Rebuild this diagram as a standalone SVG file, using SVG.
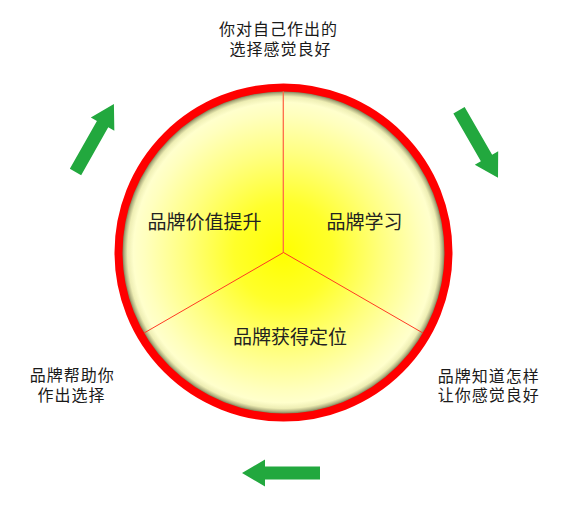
<svg xmlns="http://www.w3.org/2000/svg" xmlns:xlink="http://www.w3.org/1999/xlink" width="567" height="505" viewBox="0 0 567 505">
<style>
.t{font-family:"Noto Sans CJK SC","Liberation Sans",sans-serif;fill:#1a1a1a;text-anchor:middle}
.outer{font-size:16px;letter-spacing:1px}
.inner{font-size:19px;fill:#222}
.div{stroke:#ff3a24;stroke-width:1;fill:none}
.vert{stroke:#ff6a48;stroke-width:1.3;fill:none}
.arr{fill:#22a83e}
</style>
<defs>
<radialGradient id="fill" cx="283.5" cy="252.5" r="165" gradientUnits="userSpaceOnUse">
<stop offset="0" stop-color="#ffff00"/>
<stop offset="0.3" stop-color="#ffff2a"/>
<stop offset="0.6" stop-color="#ffff80"/>
<stop offset="0.84" stop-color="#ffffbe"/>
<stop offset="0.91" stop-color="#ffffcc"/>
<stop offset="0.945" stop-color="#eeeeb4"/>
<stop offset="0.965" stop-color="#b0b080"/>
<stop offset="0.98" stop-color="#707048"/>
<stop offset="1" stop-color="#707048"/>
</radialGradient>
<polygon id="arrow" points="0,-6.5 55,-6.5 55,-13.5 78,0 55,13.5 55,6.5 0,6.5"/>
</defs>
<rect width="567" height="505" fill="#ffffff"/>
<g id="wheel">
<circle cx="283.5" cy="252.5" r="165" fill="url(#fill)" stroke="#ff0000" stroke-width="8"/>
</g>
<g id="connectors">
<line class="vert" x1="283.3" y1="252.5" x2="283.3" y2="91.5"/>
<line class="div" x1="283.5" y1="252.5" x2="144.1" y2="333"/>
<line class="div" x1="283.5" y1="252.5" x2="422.9" y2="333"/>
<use class="arr" xlink:href="#arrow" href="#arrow" transform="translate(75.5,172) rotate(-60.5)"/>
<use class="arr" xlink:href="#arrow" href="#arrow" transform="translate(459,110.3) rotate(60)"/>
<use class="arr" xlink:href="#arrow" href="#arrow" transform="translate(320,473) rotate(180)"/>
</g>
<g id="seg-value">
<text class="t inner" x="204.5" y="229">品牌价值提升</text>
</g>
<g id="seg-learn">
<text class="t inner" x="364.5" y="229">品牌学习</text>
</g>
<g id="seg-position">
<text class="t inner" x="290" y="344">品牌获得定位</text>
</g>
<g id="label-top">
<text class="t outer"><tspan x="278.5" y="35">你对自己作出的</tspan><tspan x="280.5" y="54.5">选择感觉良好</tspan></text>
</g>
<g id="label-left">
<text class="t outer"><tspan x="72.2" y="381">品牌帮助你</tspan><tspan x="71.5" y="400.5">作出选择</tspan></text>
</g>
<g id="label-right">
<text class="t outer"><tspan x="488.8" y="381.5">品牌知道怎样</tspan><tspan x="488.8" y="401">让你感觉良好</tspan></text>
</g>
</svg>
